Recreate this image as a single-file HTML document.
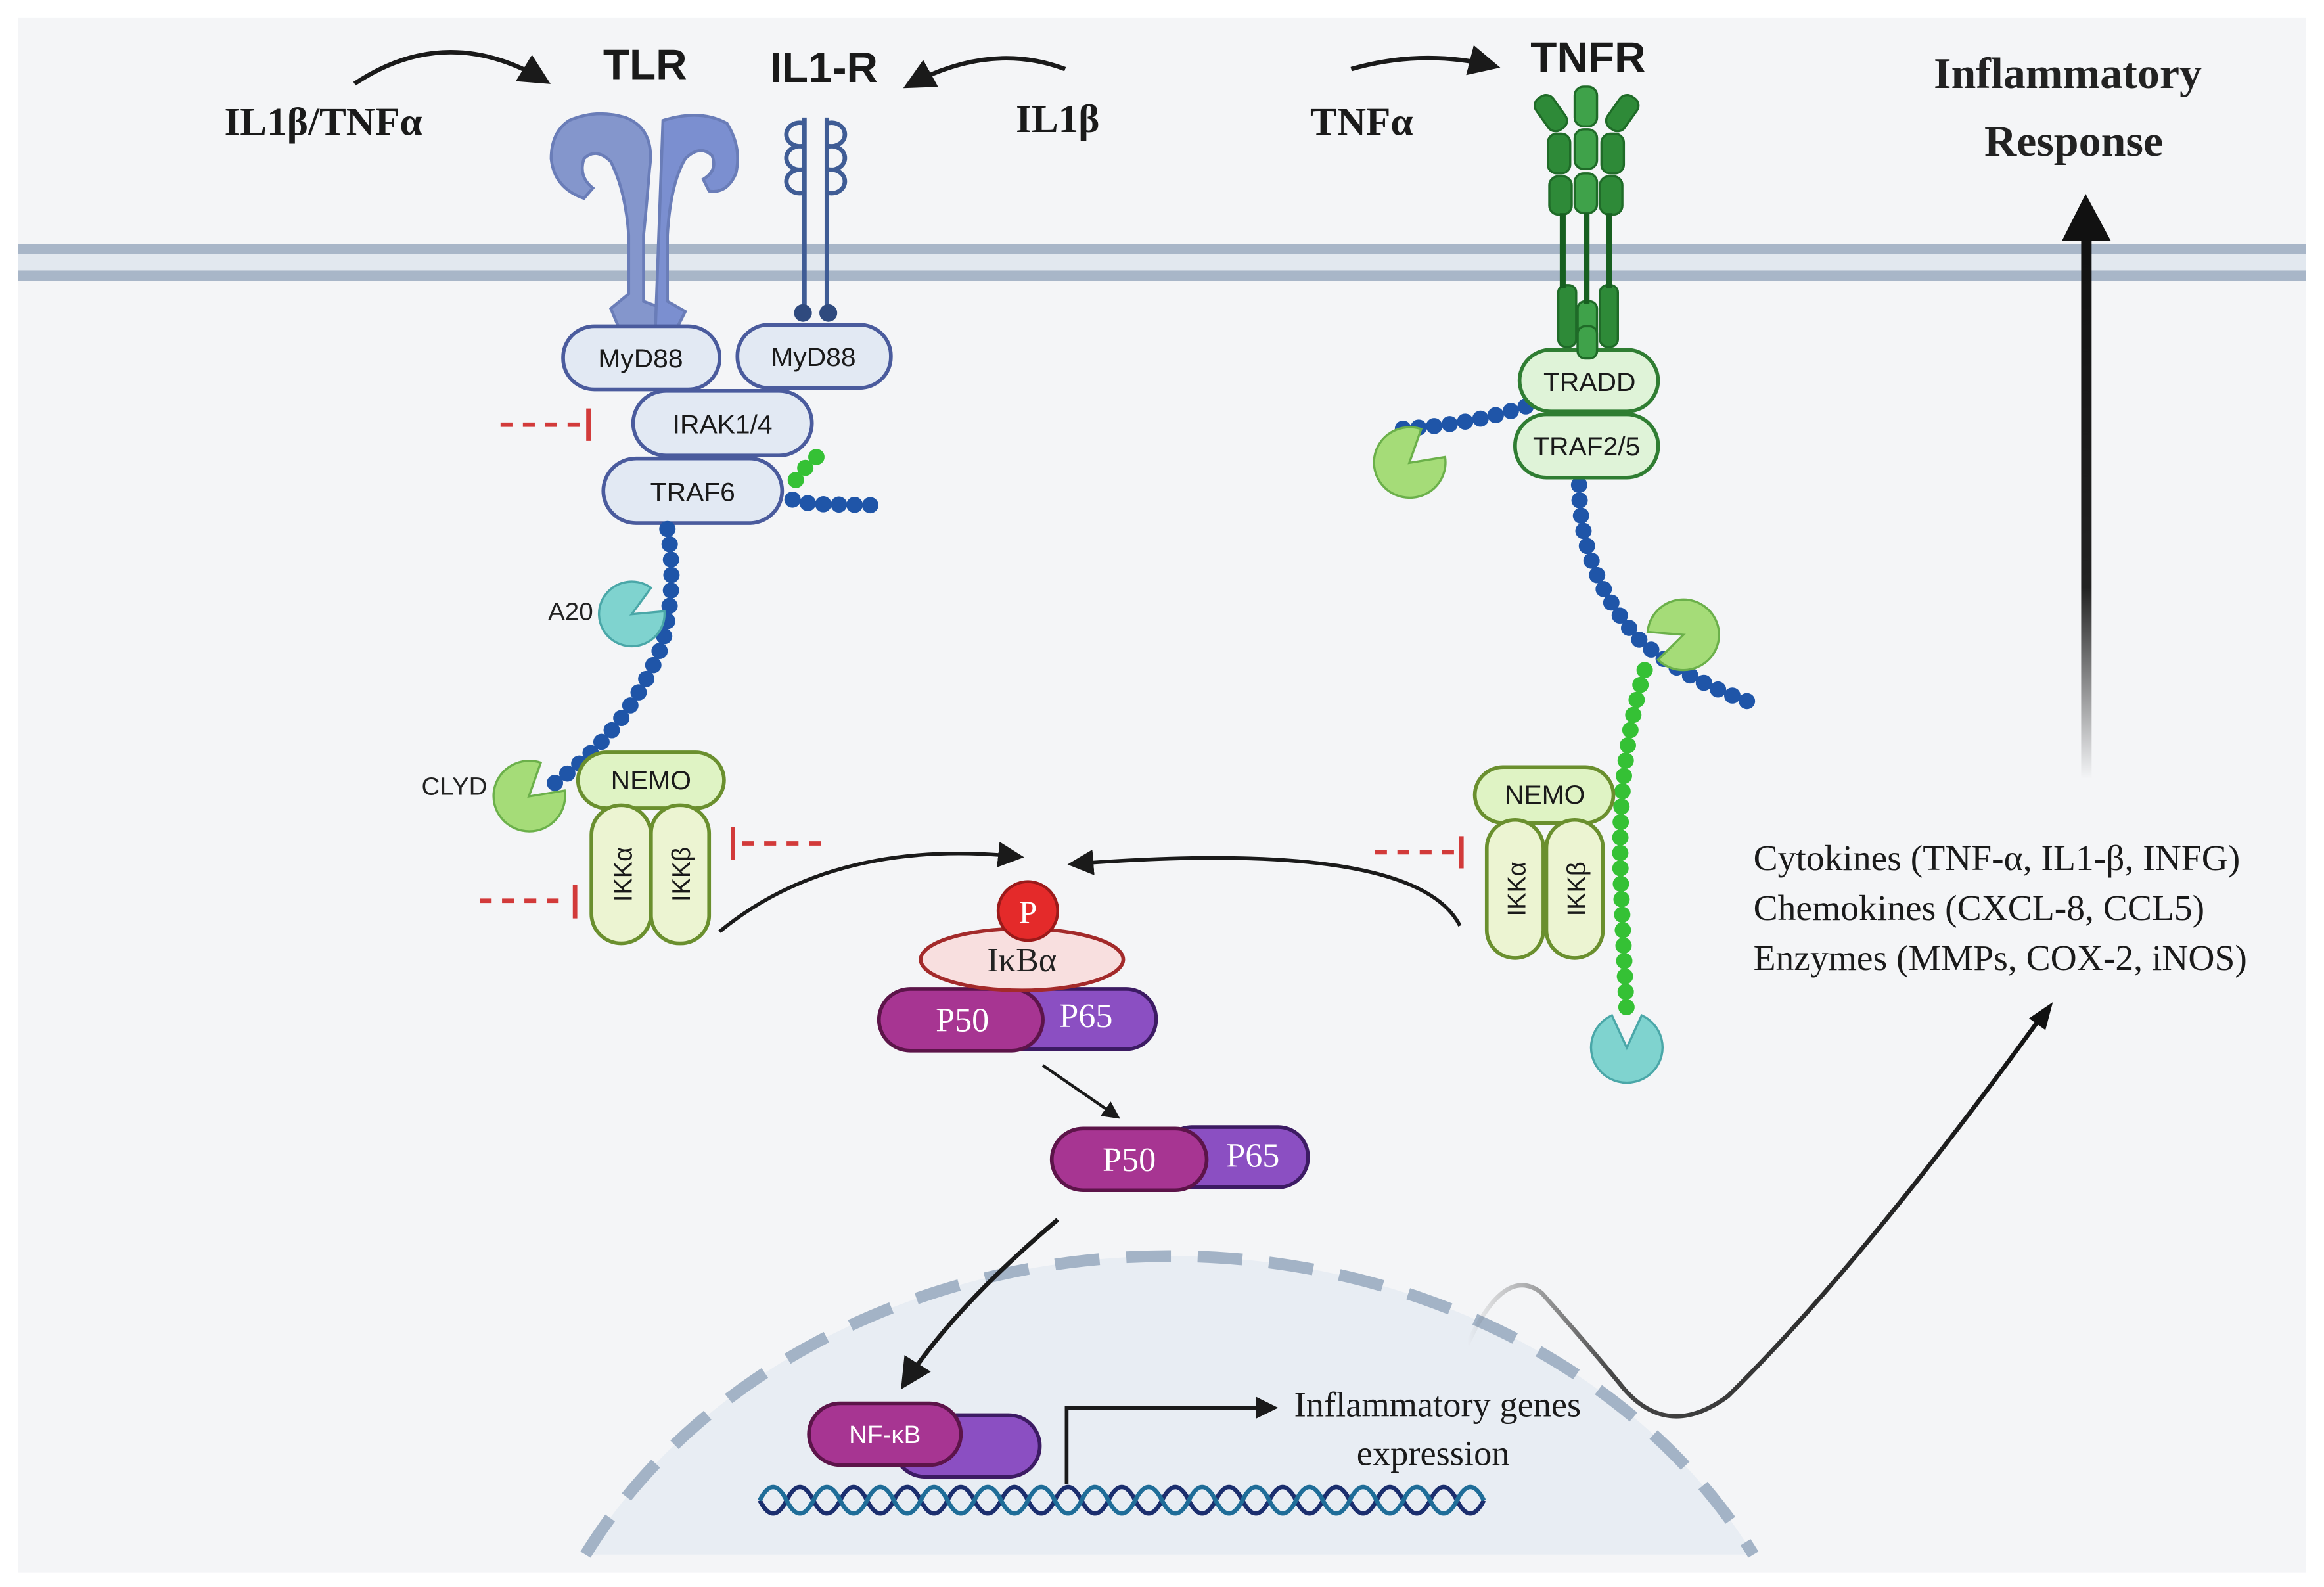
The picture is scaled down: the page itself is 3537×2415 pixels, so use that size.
<!DOCTYPE html>
<html><head><meta charset="utf-8"><style>
html,body{margin:0;padding:0;background:#fff;width:3537px;height:2415px;overflow:hidden}
svg{display:block;position:absolute;left:0;top:0}
.sans{font-family:"Liberation Sans","DejaVu Sans",sans-serif}
.serif{font-family:"Liberation Serif","DejaVu Serif",serif}
</style></head><body>
<svg width="3537" height="2415" viewBox="0 0 1560 1080" preserveAspectRatio="none" xmlns="http://www.w3.org/2000/svg">
<defs>
<marker id="ah" viewBox="0 0 10 10" refX="8" refY="5" markerWidth="6" markerHeight="6" orient="auto"><path d="M0,0 L10,5 L0,10 z" fill="#1a1a1a"/></marker>
<marker id="ahs" viewBox="0 0 10 10" refX="8" refY="5" markerWidth="7" markerHeight="7" orient="auto"><path d="M0,0 L10,5 L0,10 z" fill="#1a1a1a"/></marker>
<linearGradient id="fade" x1="0" y1="1" x2="0" y2="0"><stop offset="0" stop-color="#222" stop-opacity="0"/><stop offset="0.35" stop-color="#222" stop-opacity="1"/><stop offset="1" stop-color="#111"/></linearGradient>
<linearGradient id="fade2" x1="0" y1="0" x2="1" y2="0"><stop offset="0" stop-color="#333" stop-opacity="0"/><stop offset="0.25" stop-color="#333" stop-opacity="0.9"/><stop offset="1" stop-color="#111"/></linearGradient>
</defs>
<rect x="0" y="0" width="1560" height="1080" fill="#fff"/>
<rect x="12" y="12" width="1536" height="1058" fill="#f4f5f7"/>

<!-- membrane -->
<rect x="12" y="166" width="1536" height="24" fill="#e2e8ef"/>
<rect x="12" y="166" width="1536" height="7" fill="#a8b6c8"/>
<rect x="12" y="184" width="1536" height="7" fill="#a8b6c8"/>

<!-- nucleus -->
<path d="M393,1058 A441,375 0 0 1 1177,1058 Z" fill="#e8edf3"/>
<path d="M393,1058 A441,375 0 0 1 1177,1058" fill="none" stroke="#a3b3c6" stroke-width="8" stroke-dasharray="30 18"/>

<!-- titles -->
<text x="433" y="54" class="sans" font-size="29" font-weight="bold" text-anchor="middle" fill="#1a1a1a">TLR</text>
<text x="553" y="56" class="sans" font-size="29" font-weight="bold" text-anchor="middle" fill="#1a1a1a">IL1-R</text>
<text x="1066" y="49" class="sans" font-size="29" font-weight="bold" text-anchor="middle" fill="#1a1a1a">TNFR</text>
<text x="217" y="92" class="serif" font-size="27" font-weight="bold" text-anchor="middle" fill="#1a1a1a">IL1β/TNFα</text>
<text x="710" y="90" class="serif" font-size="27" font-weight="bold" text-anchor="middle" fill="#1a1a1a">IL1β</text>
<text x="914" y="92" class="serif" font-size="27" font-weight="bold" text-anchor="middle" fill="#1a1a1a">TNFα</text>
<text x="1388" y="60" class="serif" font-size="30" font-weight="bold" text-anchor="middle" fill="#222">Inflammatory</text>
<text x="1392" y="106" class="serif" font-size="30" font-weight="bold" text-anchor="middle" fill="#222">Response</text>

<!-- top arrows -->
<path d="M238,57 Q300,15 366,55" fill="none" stroke="#1a1a1a" stroke-width="3" marker-end="url(#ahs)"/>
<path d="M715,47 Q665,28 610,58" fill="none" stroke="#1a1a1a" stroke-width="3" marker-end="url(#ahs)"/>
<path d="M907,47 Q955,33 1003,45" fill="none" stroke="#1a1a1a" stroke-width="3" marker-end="url(#ahs)"/>

<!-- big arrow -->
<rect x="1397" y="158" width="7" height="372" fill="url(#fade)"/>
<path d="M1384,164 L1400,132 L1417,164 z" fill="#111"/>

<!-- TLR -->
<g fill="#8496cc" stroke="#6a7db8" stroke-width="2">
<path d="M382,82 Q400,74 420,80 Q440,88 436,115 Q434,140 432,160 L432,205 L445,210 L440,222 L415,222 L410,210 L422,200 L422,160 Q420,130 410,110 Q400,100 392,108 Q388,120 398,128 L392,135 Q372,128 370,108 Q370,90 382,82z"/>
<path d="M445,82 Q470,74 488,84 Q498,100 494,118 Q488,132 476,130 L472,122 Q482,116 478,106 Q470,98 460,108 Q450,125 448,160 L448,205 L460,212 L455,222 L440,222 Z" fill="#7b8fd0"/>
</g>
<!-- IL1R -->
<g fill="none" stroke="#3f5c95" stroke-width="3">
<line x1="540" y1="80" x2="540" y2="212"/>
<line x1="555" y1="80" x2="555" y2="212"/>
<path d="M540,84 a9,8 0 1 0 0,15 M540,100 a9,8 0 1 0 0,15 M540,116 a9,8 0 1 0 0,15"/>
<path d="M555,84 a9,8 0 1 1 0,15 M555,100 a9,8 0 1 1 0,15 M555,116 a9,8 0 1 1 0,15"/>
</g>
<circle cx="539" cy="213" r="6" fill="#2f4a7e"/><circle cx="556" cy="213" r="6" fill="#2f4a7e"/>

<!-- left pills -->
<g stroke="#4a5b9d" stroke-width="2.5" fill="#e2e9f3">
<rect x="378" y="222" width="105" height="43" rx="21"/>
<rect x="495" y="221" width="103" height="43" rx="21"/>
<rect x="425" y="266" width="120" height="44" rx="22"/>
<rect x="405" y="312" width="120" height="44" rx="22"/>
</g>
<g class="sans" font-size="18" text-anchor="middle" fill="#1a1a1a">
<text x="430" y="250">MyD88</text><text x="546" y="249">MyD88</text>
<text x="485" y="295">IRAK1/4</text><text x="465" y="341">TRAF6</text>
</g>

<!-- inhibitors -->
<g stroke="#d23a3a" stroke-width="3">
<line x1="336" y1="289" x2="392" y2="289" stroke-dasharray="8 7"/><line x1="395" y1="278" x2="395" y2="300"/>
<line x1="498" y1="574" x2="552" y2="574" stroke-dasharray="8 7"/><line x1="492" y1="563" x2="492" y2="585"/>
<line x1="322" y1="613" x2="382" y2="613" stroke-dasharray="8 7"/><line x1="386" y1="602" x2="386" y2="625"/>
<line x1="923" y1="580" x2="978" y2="580" stroke-dasharray="8 7"/><line x1="981" y1="569" x2="981" y2="591"/>
</g>

<!-- beads -->
<g fill="none" stroke-linecap="round" stroke-width="11" stroke-dasharray="0 10.5">
<path d="M548,311 L537,322 L531,332" stroke="#35c135"/>
<path d="M532,340 L545,343 L594,344" stroke="#1f55a8"/>
<path d="M448,360 Q455,400 444,440 Q420,500 368,536" stroke="#1f55a8"/>
<path d="M1034,273 Q990,290 935,292" stroke="#1f55a8"/>
<path d="M1060,330 Q1060,390 1100,435 Q1130,462 1175,478" stroke="#1f55a8"/>
<path d="M1104,456 Q1085,520 1088,600 Q1090,650 1092,690" stroke="#35c135"/>
</g>

<!-- pacmen -->
<path d="M424,418 L446,416 A22,22 0 1 1 437,400 Z" fill="#7fd3cf" stroke="#4aa7a8" stroke-width="1.5"/>
<text x="383" y="422" class="sans" font-size="17" text-anchor="middle" fill="#222">A20</text>
<path d="M355,542 L379,538 A24,24 0 1 1 363,519 Z" fill="#a5dc78" stroke="#6bb04a" stroke-width="1.5"/>
<text x="305" y="541" class="sans" font-size="17" text-anchor="middle" fill="#222">CLYD</text>
<path d="M946,315 L970,311 A24,24 0 1 1 954,292 Z" fill="#a5dc78" stroke="#6bb04a" stroke-width="1.5"/>
<path d="M1130,432 L1106,430 A24,24 0 1 1 1113,449 Z" fill="#a5dc78" stroke="#6bb04a" stroke-width="1.5"/>
<path d="M1092,713 L1102,691 A24,24 0 1 1 1082,691 Z" fill="#7fd3cf" stroke="#4aa7a8" stroke-width="1.5"/>

<!-- NEMO/IKK -->
<g stroke="#6a8f2e" stroke-width="2.5">
<rect x="388" y="512" width="98" height="38" rx="19" fill="#dff3c4"/>
<rect x="397" y="548" width="40" height="94" rx="20" fill="#ecf4d2"/>
<rect x="437" y="548" width="39" height="94" rx="19" fill="#ecf4d2"/>
<rect x="990" y="522" width="93" height="38" rx="19" fill="#dff3c4"/>
<rect x="998" y="558" width="38" height="94" rx="19" fill="#ecf4d2"/>
<rect x="1038" y="558" width="38" height="94" rx="19" fill="#ecf4d2"/>
</g>
<g class="sans" font-size="18" fill="#1a1a1a" text-anchor="middle">
<text x="437" y="537">NEMO</text><text x="1037" y="547">NEMO</text>
<text transform="translate(424,595) rotate(-90)" font-size="17">IKKα</text>
<text transform="translate(463,595) rotate(-90)" font-size="17">IKKβ</text>
<text transform="translate(1024,605) rotate(-90)" font-size="17">IKKα</text>
<text transform="translate(1064,605) rotate(-90)" font-size="17">IKKβ</text>
</g>

<!-- TNFR receptor -->
<g fill="#2e8a38" stroke="#1f6b28" stroke-width="1.5">
<rect x="1057" y="59" width="15" height="27" rx="6" fill="#3fa24a"/>
<rect x="1057" y="88" width="15" height="27" rx="6" fill="#3fa24a"/>
<rect x="1057" y="118" width="15" height="27" rx="6" fill="#3fa24a"/>
<rect x="1039" y="91" width="15" height="27" rx="6"/>
<rect x="1075" y="91" width="15" height="27" rx="6"/>
<rect x="1040" y="120" width="15" height="26" rx="6"/>
<rect x="1074" y="120" width="15" height="26" rx="6"/>
<rect x="1034" y="64" width="14" height="26" rx="6" transform="rotate(-35 1041 77)"/>
<rect x="1082" y="64" width="14" height="26" rx="6" transform="rotate(35 1089 77)"/>
<rect x="1046" y="194" width="12" height="42" rx="5"/>
<rect x="1074" y="194" width="12" height="42" rx="5"/>
<rect x="1059" y="205" width="13" height="40" rx="5" fill="#3fa24a"/>
</g>
<g stroke="#175f20" stroke-width="4">
<line x1="1049" y1="145" x2="1049" y2="196"/><line x1="1065" y1="145" x2="1065" y2="207"/><line x1="1080" y1="145" x2="1080" y2="196"/>
</g>
<g stroke="#2f7d32" stroke-width="2.5" fill="#dff3d8">
<rect x="1020" y="238" width="93" height="42" rx="21"/>
<rect x="1017" y="282" width="96" height="43" rx="21"/>
</g>
<rect x="1059" y="222" width="13" height="22" rx="5" fill="#3fa24a" stroke="#1f6b28" stroke-width="1.5"/>
<g class="sans" font-size="18" fill="#1a1a1a" text-anchor="middle">
<text x="1067" y="266">TRADD</text><text x="1065" y="310">TRAF2/5</text>
</g>

<!-- curved arrows to IkB -->
<path d="M483,634 Q560,570 684,583" fill="none" stroke="#1a1a1a" stroke-width="2.5" marker-end="url(#ahs)"/>
<path d="M980,630 Q950,570 720,588" fill="none" stroke="#1a1a1a" stroke-width="2.5" marker-end="url(#ahs)"/>

<!-- IkB complex -->
<rect x="660" y="673" width="116" height="41" rx="20" fill="#8b4fc2" stroke="#3c1b63" stroke-width="2.5"/>
<rect x="590" y="673" width="110" height="42" rx="21" fill="#a73592" stroke="#5c1449" stroke-width="2.5"/>
<ellipse cx="686" cy="653" rx="68" ry="21" fill="#f8dfdf" stroke="#a32a2a" stroke-width="2.5"/>
<circle cx="690" cy="620" r="20" fill="#e42a2a" stroke="#9b1a1a" stroke-width="2"/>
<text x="690" y="628" class="serif" font-size="22" fill="#fff" text-anchor="middle">P</text>
<text x="686" y="661" class="serif" font-size="23" fill="#222" text-anchor="middle">IκBα</text>
<text x="646" y="702" class="serif" font-size="23" fill="#fff" text-anchor="middle">P50</text>
<text x="729" y="699" class="serif" font-size="23" fill="#fff" text-anchor="middle">P65</text>

<path d="M700,725 L750,760" fill="none" stroke="#1a1a1a" stroke-width="2" marker-end="url(#ah)"/>

<rect x="780" y="767" width="98" height="41" rx="20" fill="#8b4fc2" stroke="#3c1b63" stroke-width="2.5"/>
<rect x="706" y="768" width="104" height="42" rx="21" fill="#a73592" stroke="#5c1449" stroke-width="2.5"/>
<text x="758" y="797" class="serif" font-size="23" fill="#fff" text-anchor="middle">P50</text>
<text x="841" y="794" class="serif" font-size="23" fill="#fff" text-anchor="middle">P65</text>

<path d="M710,830 Q640,890 607,942" fill="none" stroke="#1a1a1a" stroke-width="3" marker-end="url(#ahs)"/>

<!-- NF-kB -->
<rect x="600" y="963" width="98" height="42" rx="21" fill="#8b4fc2" stroke="#3c1b63" stroke-width="2.5"/>
<rect x="543" y="955" width="102" height="42" rx="21" fill="#a73592" stroke="#5c1449" stroke-width="2.5"/>
<text x="594" y="982" class="sans" font-size="17" fill="#fff" text-anchor="middle">NF-κB</text>

<path d="M716,1010 L716,958 L855,958" fill="none" stroke="#1a1a1a" stroke-width="2.5" marker-end="url(#ah)"/>
<text x="965" y="964" class="serif" font-size="24" fill="#1a1a1a" text-anchor="middle">Inflammatory genes</text>
<text x="962" y="997" class="serif" font-size="24" fill="#1a1a1a" text-anchor="middle">expression</text>

<!-- DNA -->
<g fill="none" stroke-width="3">
<path d="M510,1013 q9,18 18,0 q9,-18 18,0 q9,18 18,0 q9,-18 18,0 q9,18 18,0 q9,-18 18,0 q9,18 18,0 q9,-18 18,0 q9,18 18,0 q9,-18 18,0 q9,18 18,0 q9,-18 18,0 q9,18 18,0 q9,-18 18,0 q9,18 18,0 q9,-18 18,0 q9,18 18,0 q9,-18 18,0 q9,18 18,0 q9,-18 18,0 q9,18 18,0 q9,-18 18,0 q9,18 18,0 q9,-18 18,0 q9,18 18,0 q9,-18 18,0 q9,18 18,0" stroke="#1b2e6e" transform="translate(0,8)"/>
<path d="M510,1021 q9,-18 18,0 q9,18 18,0 q9,-18 18,0 q9,18 18,0 q9,-18 18,0 q9,18 18,0 q9,-18 18,0 q9,18 18,0 q9,-18 18,0 q9,18 18,0 q9,-18 18,0 q9,18 18,0 q9,-18 18,0 q9,18 18,0 q9,-18 18,0 q9,18 18,0 q9,-18 18,0 q9,18 18,0 q9,-18 18,0 q9,18 18,0 q9,-18 18,0 q9,18 18,0 q9,-18 18,0 q9,18 18,0 q9,-18 18,0 q9,18 18,0 q9,-18 18,0" stroke="#1f6d98"/>
</g>

<!-- gene → response arrow -->
<path d="M985,915 Q1010,860 1035,880 Q1070,920 1090,945 Q1120,980 1160,950 Q1250,860 1373,688" fill="none" stroke="url(#fade2)" stroke-width="3"/>
<path d="M1378,682 L1373,701 L1362,693 z" fill="#111"/>

<!-- Cytokines -->
<g class="serif" font-size="24.5" fill="#1a1a1a">
<text x="1177" y="592">Cytokines (TNF-α, IL1-β, INFG)</text>
<text x="1177" y="626">Chemokines (CXCL-8, CCL5)</text>
<text x="1177" y="660">Enzymes (MMPs, COX-2, iNOS)</text>
</g>
</svg>
</body></html>
